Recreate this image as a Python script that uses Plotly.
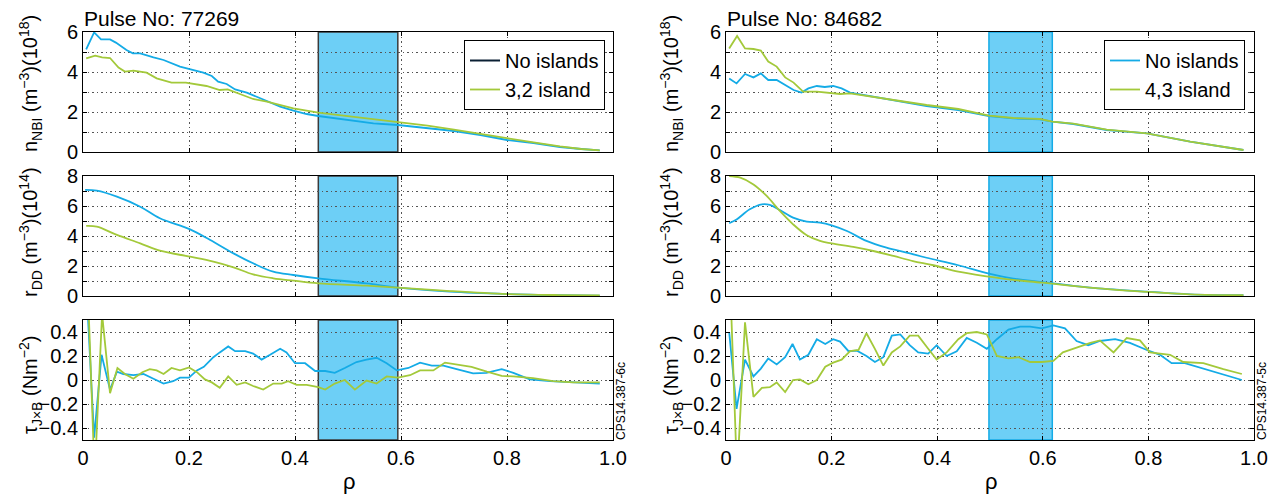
import plotly.graph_objects as go

# ---------------- data ----------------
# Pulse 77269 (left column)
L_nbi_no_rho = [0.006,0.021,0.034,0.051,0.062,0.082,0.094,0.108,0.133,0.152,0.183,0.202,0.227,0.243,0.255,0.271,0.287,0.309,0.334,0.353,0.372,0.397,0.422,0.444,0.50,0.548,0.594,0.65,0.70,0.75,0.80,0.85,0.90,0.94,0.975]
L_nbi_no = [5.13,5.98,5.63,5.63,5.47,5.1,4.93,4.93,4.73,4.6,4.27,4.13,3.97,3.8,3.52,3.4,3.13,2.97,2.68,2.5,2.27,2.07,1.9,1.8,1.6,1.43,1.35,1.2,1.05,0.85,0.6,0.45,0.25,0.15,0.08]
L_nbi_is_rho = [0.006,0.023,0.036,0.051,0.067,0.079,0.095,0.12,0.139,0.167,0.194,0.233,0.258,0.273,0.296,0.321,0.347,0.372,0.397,0.444,0.50,0.55,0.594,0.65,0.70,0.75,0.80,0.85,0.90,0.94,0.975]
L_nbi_is = [4.68,4.82,4.73,4.7,4.22,4.02,4.07,3.97,3.68,3.47,3.47,3.3,3.1,3.13,2.9,2.65,2.52,2.35,2.18,1.97,1.8,1.65,1.52,1.32,1.12,0.9,0.68,0.48,0.28,0.15,0.08]

L_rdd_no_rho = [0.004,0.026,0.064,0.108,0.145,0.202,0.24,0.284,0.321,0.359,0.397,0.444,0.535,0.594,0.692,0.8,0.9,0.975]
L_rdd_no = [7.07,7.02,6.62,5.95,5.18,4.44,3.73,2.84,2.18,1.62,1.4,1.18,0.84,0.56,0.29,0.13,0.05,0.02]
L_rdd_is_rho = [0.006,0.026,0.064,0.108,0.145,0.202,0.246,0.284,0.321,0.359,0.397,0.444,0.535,0.594,0.692,0.8,0.9,0.975]
L_rdd_is = [4.67,4.62,4.07,3.51,3.02,2.62,2.29,1.91,1.44,1.18,1.02,0.84,0.69,0.56,0.33,0.13,0.06,0.04]

L_tau_no_rho = [0.005,0.021,0.035,0.051,0.064,0.076,0.095,0.114,0.133,0.152,0.17,0.183,0.2,0.215,0.228,0.246,0.258,0.274,0.287,0.306,0.321,0.337,0.353,0.372,0.384,0.4,0.419,0.438,0.457,0.475,0.494,0.516,0.535,0.554,0.573,0.592,0.614,0.636,0.658,0.68,0.705,0.736,0.761,0.79,0.812,0.843,0.881,0.925,0.975]
L_tau_no = [0.9,-0.48,0.21,-0.08,0.07,0.05,0.04,0.05,0.01,-0.03,-0.01,0.02,0.02,0.08,0.11,0.19,0.23,0.28,0.24,0.24,0.22,0.17,0.21,0.26,0.23,0.14,0.14,0.075,0.075,0.06,0.1,0.15,0.17,0.185,0.14,0.08,0.1,0.145,0.12,0.12,0.09,0.055,0.06,0.09,0.06,0.005,-0.01,-0.02,-0.03]
L_tau_is_rho = [0.008,0.022,0.036,0.051,0.065,0.079,0.095,0.112,0.126,0.139,0.152,0.167,0.183,0.2,0.215,0.23,0.243,0.258,0.274,0.29,0.306,0.321,0.34,0.359,0.375,0.387,0.403,0.422,0.444,0.457,0.475,0.494,0.513,0.535,0.554,0.573,0.594,0.617,0.636,0.661,0.683,0.708,0.733,0.762,0.79,0.812,0.849,0.887,0.925,0.975]
L_tau_is = [0.9,-0.8,0.55,-0.11,0.1,0.05,0.01,0.065,0.09,0.08,0.05,0.1,0.08,0.105,0.065,0.005,-0.02,-0.065,0.03,-0.04,-0.02,-0.05,-0.08,-0.03,-0.03,-0.01,-0.04,-0.04,-0.06,-0.08,-0.03,0.0,-0.08,-0.005,-0.03,0.03,0.02,0.04,0.08,0.08,0.145,0.13,0.11,0.07,0.035,0.03,0.015,-0.01,-0.02,-0.02]

# Pulse 84682 (right column)
R_nbi_no_rho = [0.006,0.02,0.036,0.052,0.066,0.08,0.096,0.115,0.128,0.143,0.156,0.172,0.187,0.203,0.219,0.235,0.279,0.33,0.38,0.44,0.498,0.544,0.595,0.618,0.658,0.721,0.797,0.879,0.98]
R_nbi_no = [3.68,3.43,3.9,3.73,3.93,3.6,3.6,3.3,3.1,2.97,3.18,3.3,3.25,3.3,3.18,2.97,2.77,2.52,2.3,2.1,1.8,1.68,1.63,1.52,1.4,1.1,0.93,0.52,0.1]
R_nbi_is_rho = [0.006,0.021,0.036,0.052,0.066,0.08,0.096,0.112,0.128,0.146,0.172,0.191,0.216,0.235,0.279,0.33,0.38,0.44,0.498,0.544,0.595,0.618,0.658,0.721,0.797,0.879,0.98]
R_nbi_is = [5.18,5.8,5.18,5.15,5.07,4.52,4.27,3.73,3.47,3.02,3.02,2.97,2.9,2.93,2.77,2.55,2.35,2.15,1.82,1.7,1.65,1.52,1.42,1.12,0.93,0.52,0.1]

R_rdd_no_rho = [0.006,0.02,0.045,0.068,0.083,0.102,0.127,0.153,0.178,0.2,0.229,0.266,0.304,0.342,0.38,0.44,0.498,0.544,0.599,0.689,0.797,0.879,0.98]
R_rdd_no = [4.85,5.1,5.78,6.11,6.07,5.73,5.22,4.96,4.89,4.71,4.33,3.67,3.22,2.89,2.55,2.05,1.49,1.16,0.93,0.56,0.29,0.11,0.05]
R_rdd_is_rho = [0.006,0.027,0.052,0.077,0.102,0.127,0.153,0.178,0.2,0.241,0.279,0.317,0.354,0.393,0.44,0.498,0.544,0.599,0.689,0.797,0.879,0.98]
R_rdd_is = [8.0,7.89,7.44,6.67,5.67,4.78,4.05,3.67,3.51,3.27,3.0,2.67,2.33,2.05,1.62,1.29,1.07,0.89,0.56,0.27,0.11,0.05]

R_tau_no_rho = [0.006,0.02,0.036,0.052,0.066,0.08,0.096,0.112,0.126,0.14,0.156,0.172,0.188,0.203,0.216,0.232,0.248,0.266,0.282,0.298,0.314,0.33,0.348,0.364,0.383,0.399,0.418,0.437,0.456,0.475,0.494,0.513,0.535,0.557,0.576,0.598,0.62,0.642,0.664,0.686,0.708,0.737,0.765,0.797,0.822,0.844,0.869,0.904,0.942,0.977]
R_tau_no = [0.4,-0.24,0.17,0.03,0.095,0.18,0.13,0.19,0.3,0.17,0.21,0.34,0.3,0.34,0.32,0.24,0.245,0.2,0.15,0.19,0.37,0.38,0.29,0.23,0.22,0.29,0.2,0.24,0.35,0.31,0.26,0.34,0.42,0.445,0.445,0.43,0.455,0.43,0.325,0.29,0.325,0.34,0.31,0.25,0.21,0.14,0.14,0.095,0.048,0.0]
R_tau_is_rho = [0.008,0.021,0.036,0.052,0.068,0.083,0.096,0.112,0.127,0.14,0.156,0.172,0.188,0.203,0.219,0.235,0.251,0.266,0.282,0.298,0.314,0.33,0.348,0.364,0.383,0.399,0.418,0.44,0.456,0.475,0.494,0.513,0.535,0.554,0.576,0.598,0.62,0.638,0.664,0.69,0.708,0.734,0.759,0.784,0.803,0.841,0.866,0.904,0.942,0.977]
R_tau_is = [0.8,-0.8,0.48,-0.14,-0.065,-0.06,-0.02,-0.1,0.0,0.005,-0.035,0.0,0.11,0.145,0.17,0.24,0.25,0.39,0.26,0.12,0.23,0.28,0.37,0.37,0.26,0.17,0.23,0.34,0.39,0.4,0.38,0.2,0.18,0.19,0.15,0.15,0.16,0.23,0.27,0.31,0.33,0.23,0.35,0.33,0.23,0.21,0.15,0.14,0.09,0.05]

pulses = ["Pulse No: 77269", "Pulse No: 84682"]
island_names = ["3,2 island", "4,3 island"]
island_band = [(0.444, 0.594), (0.498, 0.618)]
x_ticks = [0, 0.2, 0.4, 0.6, 0.8, 1.0]
x_ticktext = ["0", "0.2", "0.4", "0.6", "0.8", "1.0"]
row_ranges = [(0, 6), (0, 8), (-0.5, 0.5)]
row_tickvals = [[0, 1, 2, 3, 4, 5, 6], [0, 1, 2, 3, 4, 5, 6, 7, 8], [-0.4, -0.2, 0, 0.2, 0.4]]
row_ticktext = [["0", "", "2", "", "4", "", "6"], ["0", "", "2", "", "4", "", "6", "", "8"], ["\u22120.4", "\u22120.2", "0", "0.2", "0.4"]]
row_titles = ["n<sub>NBI</sub> (m<sup>\u22123</sup>)(10<sup>18</sup>)",
              "r<sub>DD</sub> (m<sup>\u22123</sup>)(10<sup>14</sup>)",
              "\u03c4<sub>J\u00d7B</sub> (Nm<sup>\u22122</sup>)"]
codes = ["CPS14.387-6c", "CPS14.387-5c"]

data = {
    (0, 0): (L_nbi_no_rho, L_nbi_no, L_nbi_is_rho, L_nbi_is),
    (1, 0): (L_rdd_no_rho, L_rdd_no, L_rdd_is_rho, L_rdd_is),
    (2, 0): (L_tau_no_rho, L_tau_no, L_tau_is_rho, L_tau_is),
    (0, 1): (R_nbi_no_rho, R_nbi_no, R_nbi_is_rho, R_nbi_is),
    (1, 1): (R_rdd_no_rho, R_rdd_no, R_rdd_is_rho, R_rdd_is),
    (2, 1): (R_tau_no_rho, R_tau_no, R_tau_is_rho, R_tau_is),
}

# ---------------- style / layout ----------------
W, H = 1279, 494
BLUE = "#14ABE6"
GREEN = "#A3C93A"
SHADE = "#6DCFF6"
FONT = "Liberation Sans, Arial, Helvetica, sans-serif"
FS = 20
xdom_px = [(83, 613), (726, 1254)]
ydom_px = [(32, 152), (176, 296), (320, 440)]


def px(x):
    return x / W


def py(y):
    return 1 - y / H


fig = go.Figure()
layout = dict(width=W, height=H, margin=dict(l=0, r=0, t=0, b=0, autoexpand=False),
              paper_bgcolor="white", plot_bgcolor="white",
              font=dict(family=FONT, size=FS, color="black"),
              showlegend=True)
shapes = []
annotations = []
grid_dash = "1.5px,3px"

n = 0
for c in range(2):
    for r in range(3):
        n += 1
        xa = "x" if n == 1 else f"x{n}"
        ya = "y" if n == 1 else f"y{n}"
        xk = "xaxis" if n == 1 else f"xaxis{n}"
        yk = "yaxis" if n == 1 else f"yaxis{n}"
        bx, by, gx, gy = data[(r, c)]
        leg = "legend" if c == 0 else "legend2"
        smooth = "spline" if r == 1 else "linear"
        # legend entry for left "No islands" drawn dark as in the original
        if r == 0 and c == 0:
            fig.add_trace(go.Scatter(x=[None], y=[None], mode="lines", name="No islands",
                                     line=dict(color="#0A1F33", width=2),
                                     xaxis=xa, yaxis=ya, legend=leg, showlegend=True))
        fig.add_trace(go.Scatter(x=bx, y=by, mode="lines", name="No islands",
                                 line=dict(color=BLUE, width=1.8, shape=smooth),
                                 xaxis=xa, yaxis=ya, legend=leg,
                                 showlegend=(r == 0 and c == 1)))
        fig.add_trace(go.Scatter(x=gx, y=gy, mode="lines", name=island_names[c],
                                 line=dict(color=GREEN, width=1.8, shape=smooth),
                                 xaxis=xa, yaxis=ya, legend=leg,
                                 showlegend=(r == 0)))
        x0p, x1p = xdom_px[c]
        y0p, y1p = ydom_px[r]
        layout[xk] = dict(domain=[px(x0p), px(x1p)], range=[0, 1], anchor=ya,
                          tickvals=x_ticks, ticktext=x_ticktext, automargin=False,
                          showticklabels=(r == 2), ticks="inside", ticklen=4,
                          tickcolor="black", showline=True, linecolor="black",
                          linewidth=1, mirror="ticks", showgrid=True,
                          gridcolor="#555", griddash=grid_dash, gridwidth=1,
                          zeroline=False, tickfont=dict(size=FS))
        layout[yk] = dict(domain=[py(y1p), py(y0p)], range=list(row_ranges[r]), anchor=xa,
                          tickvals=row_tickvals[r], ticktext=row_ticktext[r], automargin=False,
                          ticks="inside", ticklen=4, tickcolor="black",
                          showline=True, linecolor="black", linewidth=1,
                          mirror="ticks", showgrid=True, gridcolor="#555",
                          griddash=grid_dash, gridwidth=1, zeroline=False,
                          tickfont=dict(size=FS))
        a, b = island_band[c]
        shapes.append(dict(type="rect", xref=xa, yref=f"{ya} domain", x0=a, x1=b, y0=0, y1=1,
                           fillcolor=SHADE, layer="below",
                           line=dict(color="#3A3A3A" if c == 0 else BLUE, width=1.5)))

# y-axis titles
ycent = [84, 232, 385]
xlab = [30, 671]
for c in range(2):
    for r in range(3):
        annotations.append(dict(text=row_titles[r], x=px(xlab[c]), y=py(ycent[r]),
                                xref="paper", yref="paper", xanchor="center", yanchor="middle",
                                textangle=-90, showarrow=False, font=dict(size=FS)))
    annotations.append(dict(text=pulses[c], x=px(xdom_px[c][0] - 1), y=py(18), xref="paper",
                            yref="paper", xanchor="left", yanchor="middle", showarrow=False,
                            font=dict(size=21)))
    annotations.append(dict(text="\u03c1", x=px((xdom_px[c][0] + xdom_px[c][1]) / 2 + 1), y=py(481),
                            xref="paper", yref="paper", xanchor="center", yanchor="middle",
                            showarrow=False, font=dict(size=22)))
    annotations.append(dict(text=codes[c], x=px(xdom_px[c][1] + 8), y=py(401), xref="paper",
                            yref="paper", xanchor="center", yanchor="middle", textangle=-90,
                            showarrow=False, font=dict(size=12)))

legend_common = dict(bgcolor="white", bordercolor="black", borderwidth=1,
                     font=dict(size=FS), xanchor="right", yanchor="top",
                     tracegroupgap=0, itemwidth=30)
layout["legend"] = dict(legend_common, x=px(605), y=py(40))
layout["legend2"] = dict(legend_common, x=px(1245), y=py(40))
layout["shapes"] = shapes
layout["annotations"] = annotations
fig.update_layout(**layout)

fig.write_html("out.html")
